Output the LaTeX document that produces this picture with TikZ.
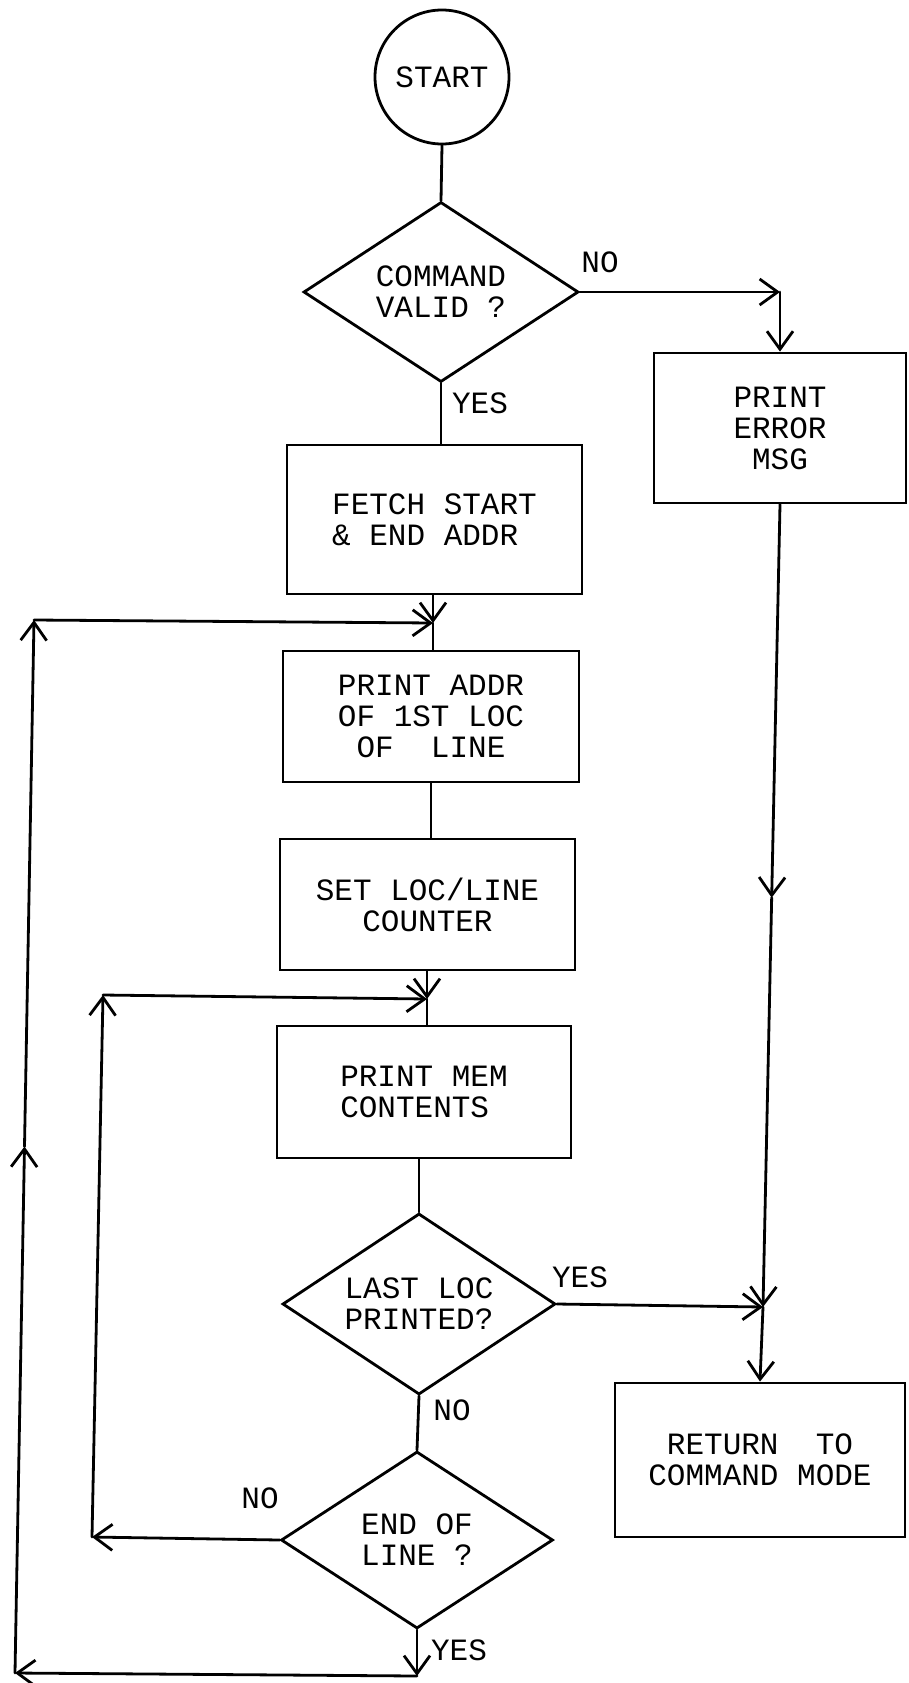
\documentclass[tikz,border=0pt]{standalone}
\usepackage{fontspec}
\setmainfont{Liberation Mono}
\usetikzlibrary{arrows.meta,shapes.geometric,calc}
\begin{document}
\begin{tikzpicture}[x=1pt,y=-1pt,
  every node/.style={font=\fontsize{31}{31}\selectfont, inner sep=0pt},
  box/.style={draw, line width=2.8pt, rectangle, align=center},
  dec/.style={draw, line width=2.8pt, diamond, shape aspect=1.5, align=left},
  conn/.style={line width=2.8pt, line cap=round},
  arr/.style={conn, -{Straight Barb[length=18pt,width=26pt]}},
]
\fill[white] (0,0) rectangle (908,1683);
\useasboundingbox (0,0) rectangle (908,1683);

% nodes
\node[draw, circle, line width=2.8pt, minimum size=134pt] (start) at (442,77) {START};
\node[dec, minimum width=275pt, minimum height=180pt] (d1) at (441,292) {COMMAND\\VALID ?};
\node[box, minimum width=295pt, minimum height=149pt, align=left] (fetch) at (434.5,519.5) {FETCH START\\\& END ADDR};
\node[box, minimum width=252pt, minimum height=150pt] (err) at (780,428) {PRINT\\ERROR\\MSG};
\node[box, minimum width=296pt, minimum height=131pt] (paddr) at (431,716.5) {PRINT ADDR\\OF 1ST LOC\\OF\ \ LINE};
\node[box, minimum width=295pt, minimum height=131pt] (setc) at (427.5,904.5) {SET LOC/LINE\\COUNTER};
\node[box, minimum width=294pt, minimum height=132pt, align=left] (pmem) at (424,1092) {PRINT MEM\\CONTENTS};
\node[dec, minimum width=273pt, minimum height=181pt] (d2) at (419,1304) {LAST LOC\\PRINTED?};
\node[dec, minimum width=272pt, minimum height=177pt] (d3) at (417,1540) {END OF\\LINE ?};
\node[box, minimum width=290pt, minimum height=154pt] (ret) at (760,1460) {RETURN\ \ TO\\COMMAND MODE};

% labels
\node (no1) at (600,262) {NO};
\node (yes1) at (480,403) {YES};
\node (yes2) at (580,1277) {YES};
\node (no2) at (452,1410) {NO};
\node (no3) at (260,1498) {NO};
\node (yes3) at (459,1650) {YES};

% junction coordinates
\coordinate (c1) at (err.north |- d1.east);
\coordinate (j1) at (433,623);
\coordinate (j3) at (427,999);
\coordinate (j2) at (763,1307);
\coordinate (b1) at (417,1676);
\coordinate (b2) at (15,1673);
\coordinate (b3) at (34,620);
\coordinate (bm) at ($(b2)!0.5!(b3)$);
\coordinate (i1) at (92,1537);
\coordinate (i2) at (103,995);
\coordinate (rm) at ($(err.south)!0.49!(j2)$);

% connectors
\draw[conn] (start.south) -- (d1.north);
\draw[arr] (d1.east) -- (c1);
\draw[arr] (c1) -- (err.north);
\draw[conn] (d1.south) -- (d1.south |- fetch.north);
\draw[arr] (j1 |- fetch.south) -- (j1);
\draw[conn] (j1) -- (j1 |- paddr.north);
\draw[conn] (paddr.south) -- (paddr.south |- setc.north);
\draw[arr] (j3 |- setc.south) -- (j3);
\draw[conn] (j3) -- (j3 |- pmem.north);
\draw[conn] (d2.north |- pmem.south) -- (d2.north);
\draw[conn] (d2.south) -- (d3.north);
\draw[arr] (d2.east) -- (j2);
\draw[arr] (err.south) -- (rm);
\draw[arr] (rm) -- (j2);
\draw[arr] (j2) -- (ret.north);
\draw[arr] (d3.west) -- (i1);
\draw[arr] (i1) -- (i2);
\draw[arr] (i2) -- (j3);
\draw[arr] (d3.south) -- (b1);
\draw[arr] (b1) -- (b2);
\draw[arr] (b2) -- (bm);
\draw[arr] (bm) -- (b3);
\draw[arr] (b3) -- (j1);
\end{tikzpicture}
\end{document}
